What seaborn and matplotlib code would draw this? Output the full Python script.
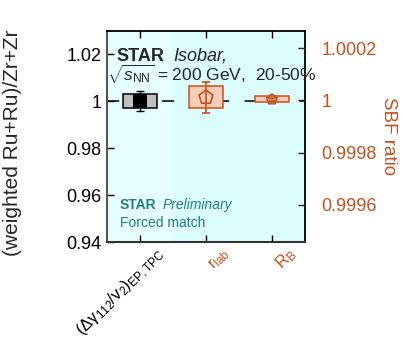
import numpy as np
import pandas as pd
import matplotlib
matplotlib.use("Agg")
import matplotlib.pyplot as plt
import matplotlib.transforms as mtransforms
import seaborn as sns

# ---------------- data ----------------
categories = [r"$\mathregular{(\Delta\gamma_{112}/v_2)_{EP,TPC}}$", r"$\mathregular{r_{lab}}$", r"$\mathregular{R_{B}}$"]
cat_colors = ["black", "#c9501c", "#c9501c"]

# left axis series (weighted ratio)
left_x = [0.5]
left_val = [1.0]
left_stat = [0.0043]
left_sys = [0.0028]

# right axis series (SBF ratio)
right_x = [1.5, 2.5]
right_val = [1.0000114, 1.0000038]
right_stat = [0.000059, 0.000006]
right_sys = [0.000042, 0.0000114]
right_msize = [110, 60]

left_ticks = [0.94, 0.96, 0.98, 1.0, 1.02]
left_ticklabels = ["0.94", "0.96", "0.98", "1", "1.02"]
right_ticks = [0.9996, 0.9998, 1.0, 1.0002]
right_ticklabels = ["0.9996", "0.9998", "1", "1.0002"]

# ---------------- style ----------------
sns.set_theme(style="white")
plt.rcParams["font.family"] = ["Liberation Sans", "DejaVu Sans"]
plt.rcParams["mathtext.fontset"] = "custom"
plt.rcParams["mathtext.rm"] = "Liberation Sans"
plt.rcParams["mathtext.it"] = "Liberation Sans:italic"
plt.rcParams["mathtext.bf"] = "Liberation Sans:bold"

ORANGE = "#c9501c"
TEAL = "#237f80"

fig = plt.figure(figsize=(4.07, 3.41), dpi=100)
ax = fig.add_axes([0.263, 0.290, 0.486, 0.619])
ax2 = ax.twinx()

ax.set_xlim(0, 3)
ax.set_ylim(0.94, 1.0298)
ax2.set_ylim(0.999458, 1.000265)

# background
ax.axvspan(0, 1, color="#e6ffff", zorder=0, lw=0)
ax.axvspan(1, 3, color="#dcfdfd", zorder=0, lw=0)

# dashed reference line
ax.axhline(1.0, color="black", lw=1.1, dashes=(8, 10), zorder=1)

# left: systematic box
ax.bar(left_x, [2 * s for s in left_sys], bottom=[v - s for v, s in zip(left_val, left_sys)],
       width=0.51, color="#bfbfbf", edgecolor="black", linewidth=1.1, zorder=3)
ax.errorbar(left_x, left_val, yerr=left_stat, fmt="none", ecolor="black",
            elinewidth=1.0, capsize=3, capthick=1.0, zorder=4)
df_left = pd.DataFrame({"x": left_x, "y": left_val})
sns.scatterplot(data=df_left, x="x", y="y", ax=ax, marker="s", s=90,
                color="black", edgecolor="black", linewidth=0, zorder=5, legend=False)

# right: systematic boxes
ax2.bar(right_x, [2 * s for s in right_sys], bottom=[v - s for v, s in zip(right_val, right_sys)],
        width=0.51, color="#f5cdb8", edgecolor=ORANGE, linewidth=1.1, zorder=3)
ax2.errorbar(right_x, right_val, yerr=right_stat, fmt="none", ecolor=ORANGE,
             elinewidth=1.2, capsize=3, capthick=1.2, zorder=4)
df_right = pd.DataFrame({"x": right_x, "y": right_val, "s": right_msize})
for _, r in df_right.iterrows():
    sns.scatterplot(x=[r["x"]], y=[r["y"]], ax=ax2, marker="p", s=r["s"],
                    facecolor="none", edgecolor=ORANGE, linewidth=1.2, zorder=5, legend=False)
ax2.set_xlabel("")
ax2.set_ylabel("")
ax.set_xlabel("")
ax.set_ylabel("")

# ticks
ax.set_xticks([0.5, 1.5, 2.5])
ax.set_xticklabels(categories, rotation=45, ha="right", rotation_mode="anchor", fontsize=12)
ax.set_yticks(left_ticks)
ax.set_yticklabels(left_ticklabels, fontsize=13)
ax.tick_params(axis="both", direction="in", length=5, width=1, top=True, bottom=True,
               left=True, right=False, pad=4, colors="black")
for lbl, c in zip(ax.get_xticklabels(), cat_colors):
    lbl.set_color(c)
    lbl.set_transform(lbl.get_transform() + mtransforms.ScaledTranslation(15 / 100, 3 / 100, fig.dpi_scale_trans))
ax2.set_yticks(right_ticks)
ax2.set_yticklabels(right_ticklabels, fontsize=13, color=ORANGE)
ax2.tick_params(axis="y", direction="in", length=5, width=1, pad=12)

for sp in ["top", "right"]:
    ax.spines[sp].set_color("black")
    ax.spines[sp].set_linewidth(1.3)
ax.spines["left"].set_color("#555555")
ax.spines["left"].set_linewidth(1.5)
ax.spines["bottom"].set_color("#333333")
ax.spines["bottom"].set_linewidth(1.5)
for sp in ax2.spines.values():
    sp.set_visible(False)

# labels
fig.text(0.03, 0.58, "(weighted Ru+Ru)/Zr+Zr", rotation=90, fontsize=15,
         ha="center", va="center")
fig.text(0.955, 0.60, "SBF ratio", rotation=270, fontsize=13.5, color=ORANGE,
         ha="center", va="center")

# annotations
ax.text(0.05, 0.86, "STAR", transform=ax.transAxes, fontsize=13,
        fontweight="bold", ha="left", va="baseline")
ax.text(0.333, 0.86, "Isobar,", transform=ax.transAxes, fontsize=13,
        fontstyle="italic", ha="left", va="baseline")
ax.text(0.0, 0.76, r"$\sqrt{s_{\rm NN}}$ = 200 GeV,  20-50%", transform=ax.transAxes,
        fontsize=12.5, ha="left", va="baseline")
ax.text(0.065, 0.155, "STAR", transform=ax.transAxes, fontsize=10,
        fontweight="bold", color=TEAL, ha="left", va="baseline")
ax.text(0.283, 0.155, "Preliminary", transform=ax.transAxes, fontsize=10,
        fontstyle="italic", color=TEAL, ha="left", va="baseline")
ax.text(0.065, 0.07, "Forced match", transform=ax.transAxes, fontsize=10,
        color=TEAL, ha="left", va="baseline")

ax.set_zorder(ax2.get_zorder() - 1)
ax.patch.set_visible(False)
ax2.patch.set_visible(False)

fig.savefig("out.png", dpi=100)
